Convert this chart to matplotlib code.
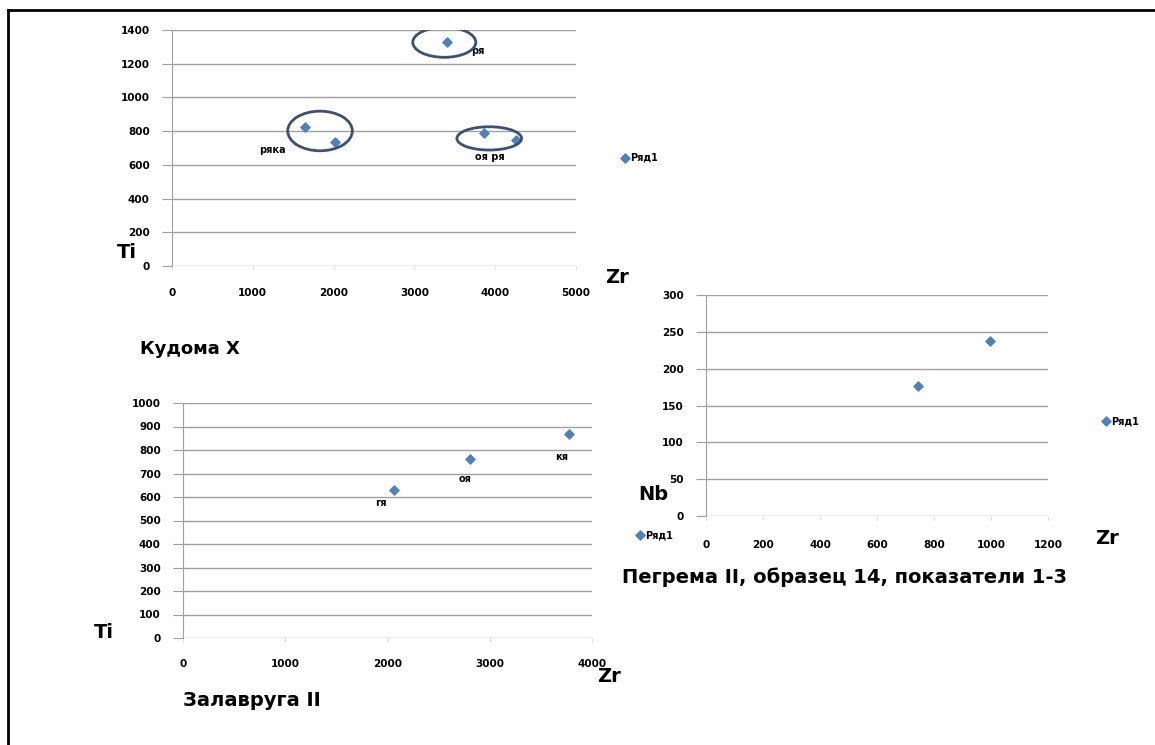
import matplotlib
matplotlib.use('Agg')
import matplotlib.pyplot as plt
from matplotlib.patches import Ellipse

W, H = 1155, 745

# Кудома X
kud_zr = [1643, 2022, 3403, 3867, 4263]
kud_ti = [826, 737, 1327, 787, 747]
kud_labels = ['ряка', None, 'ря', 'оя ря', None]
kud_ell_x = [1832, 3370, 3926]
kud_ell_y = [801, 1327, 757]
kud_ell_w = [800, 780, 800]
kud_ell_h = [235, 178, 138]

# Залавруга II
zal_zr = [2060, 2810, 3771]
zal_ti = [629, 760, 866]
zal_labels = ['гя', 'оя', 'кя']

# Пегрема II
peg_zr = [743, 995]
peg_nb = [176, 238]

blue = '#4F81BD'
grid = '#a0a0a0'


def box(l, t, r, b):
    return [l / W, 1 - b / H, (r - l) / W, (b - t) / H]


def style(ax, xmax, xstep, ymax, ystep, xpad, ypad):
    ax.set_xlim(0, xmax)
    ax.set_ylim(0, ymax)
    ax.set_xticks(range(0, xmax + 1, xstep))
    ax.set_yticks(range(0, ymax + 1, ystep))
    ax.grid(axis='y', color=grid, lw=1)
    ax.set_axisbelow(True)
    for s in ['top', 'right', 'bottom']:
        ax.spines[s].set_visible(False)
    ax.spines['left'].set_color(grid)
    ax.tick_params(axis='y', length=7, color=grid, pad=ypad)
    ax.tick_params(axis='x', length=3, color='#e0e0e0', pad=xpad)
    for lab in ax.get_xticklabels() + ax.get_yticklabels():
        lab.set_fontsize(7.5)
        lab.set_fontweight('bold')


def legend(ax, px, py):
    ax.legend(loc='center left', bbox_to_anchor=(px / W, 1 - py / H),
              bbox_transform=fig.transFigure, frameon=False,
              handlelength=0.6, handletextpad=0.3, borderpad=0,
              prop={'size': 7, 'weight': 'bold'})


fig = plt.figure(figsize=(W / 100, H / 100), dpi=100)

# frame of the original picture
fig.add_artist(plt.Line2D([8 / W, 8 / W], [0, 1 - 10 / H], color='black', lw=2))
fig.add_artist(plt.Line2D([8 / W, 1], [1 - 10 / H, 1 - 10 / H], color='black', lw=2))

# top chart
ax1 = fig.add_axes(box(172, 30, 576, 266))
ax1.scatter(kud_zr, kud_ti, marker='D', s=22, color=blue, label='Ряд1', zorder=3)
style(ax1, 5000, 1000, 1400, 200, 13, 9)
for x, y, w, h in zip(kud_ell_x, kud_ell_y, kud_ell_w, kud_ell_h):
    ax1.add_patch(Ellipse((x, y), w, h, fill=False, ec='#3b5072', lw=2, zorder=4))
offs = {'ряка': (-23, -17), 'ря': (22, -6), 'оя ря': (4, -17)}
for x, y, t in zip(kud_zr, kud_ti, kud_labels):
    if t:
        ax1.annotate(t, (x, y), xytext=offs[t], textcoords='offset points',
                     ha='center', va='center', fontsize=7, fontweight='bold')
legend(ax1, 617, 158)

# bottom-left chart
ax2 = fig.add_axes(box(183, 403, 592, 638))
ax2.scatter(zal_zr, zal_ti, marker='D', s=22, color=blue, label='Ряд1', zorder=3)
style(ax2, 4000, 1000, 1000, 100, 12, 9)
offs2 = [(-9, -9), (-4, -14), (-5, -16)]
for x, y, t, o in zip(zal_zr, zal_ti, zal_labels, offs2):
    ax2.annotate(t, (x, y), xytext=o, textcoords='offset points',
                 ha='center', va='center', fontsize=7, fontweight='bold')
legend(ax2, 632, 535)

# right chart
ax3 = fig.add_axes(box(706, 295, 1048, 516))
ax3.scatter(peg_zr, peg_nb, marker='D', s=22, color=blue, label='Ряд1', zorder=3)
style(ax3, 1200, 200, 300, 50, 14, 9)
legend(ax3, 1098, 421)

big = {'fontsize': 14, 'fontweight': 'bold', 'va': 'center'}
fig.text(117 / W, 1 - 253 / H, 'Ti', **big)
fig.text(605 / W, 1 - 278 / H, 'Zr', **big)
fig.text(140 / W, 1 - 349 / H, 'Кудома X', fontsize=13, fontweight='bold', va='center')
fig.text(94 / W, 1 - 632 / H, 'Ti', **big)
fig.text(597 / W, 1 - 676 / H, 'Zr', **big)
fig.text(183 / W, 1 - 700 / H, 'Залавруга II', fontsize=14, fontweight='bold', va='center')
fig.text(638 / W, 1 - 495 / H, 'Nb', **big)
fig.text(1095 / W, 1 - 538 / H, 'Zr', **big)
fig.text(622 / W, 1 - 577 / H, 'Пегрема II, образец 14, показатели 1-3',
         fontsize=14, fontweight='bold', va='center')

fig.savefig('out.png', dpi=100)
